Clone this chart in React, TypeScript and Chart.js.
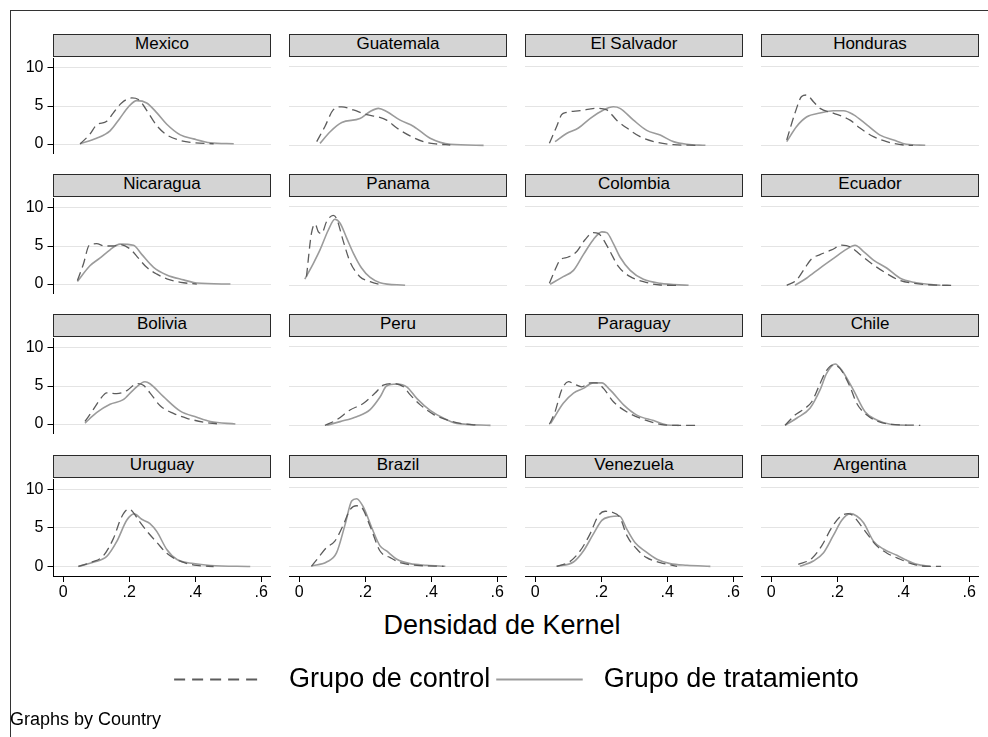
import React, { useEffect, useRef } from 'react';
import { Chart, registerables } from 'chart.js';

Chart.register(...registerables);

// ---------------- DATA ----------------
const countries = [
  'Mexico', 'Guatemala', 'El Salvador', 'Honduras',
  'Nicaragua', 'Panama', 'Colombia', 'Ecuador',
  'Bolivia', 'Peru', 'Paraguay', 'Chile',
  'Uruguay', 'Brazil', 'Venezuela', 'Argentina',
];

const seriesLabels = ['Grupo de control', 'Grupo de tratamiento'];
const xTitle = 'Densidad de Kernel';
const footnote = 'Graphs by Country';

const yTicks = [0, 5, 10];
const yTickLabels = ['0', '5', '10'];
const xTicks = [0, 0.2, 0.4, 0.6];
const xTickLabels = ['0', '.2', '.4', '.6'];

// [x, density] pairs
const mexicoControl = [[0.051,0],[0.081,1.3],[0.101,2.5],[0.132,3.0],[0.152,4.1],[0.177,5.4],[0.208,6.06],[0.228,5.85],[0.243,5.1],[0.258,4.1],[0.284,2.4],[0.314,1.2],[0.355,0.47],[0.395,0.17],[0.456,0.04]];
const mexicoTreatment = [[0.051,0.05],[0.101,0.76],[0.142,1.74],[0.172,3.4],[0.198,4.9],[0.223,5.7],[0.253,5.4],[0.284,4.1],[0.314,2.6],[0.355,1.2],[0.395,0.68],[0.446,0.17],[0.517,0.04]];
const guatemalaControl = [[0.053,0.47],[0.078,2.4],[0.103,4.5],[0.129,4.9],[0.164,4.5],[0.205,3.9],[0.24,3.6],[0.265,3.2],[0.296,2.2],[0.336,1.2],[0.377,0.47],[0.417,0.17],[0.458,0.04]];
const guatemalaTreatment = [[0.063,0.25],[0.093,1.7],[0.129,2.9],[0.184,3.4],[0.215,4.3],[0.24,4.7],[0.265,4.3],[0.306,3.2],[0.347,2.4],[0.397,0.9],[0.458,0.13],[0.559,0]];
const elSalvadorControl = [[0.043,0.25],[0.065,2.4],[0.08,3.9],[0.095,4.2],[0.136,4.4],[0.186,4.7],[0.217,4.5],[0.247,3.2],[0.278,2.2],[0.318,1.1],[0.369,0.38],[0.419,0.08],[0.49,0]];
const elSalvadorTreatment = [[0.06,0.47],[0.095,1.5],[0.131,2.2],[0.166,3.4],[0.207,4.5],[0.237,4.9],[0.257,4.7],[0.298,3.2],[0.338,1.9],[0.379,1.3],[0.419,0.47],[0.46,0.13],[0.516,0]];
const hondurasControl = [[0.047,0.68],[0.072,4.1],[0.092,6.2],[0.107,6.4],[0.128,5.55],[0.148,4.7],[0.188,4.1],[0.239,3.2],[0.269,2.2],[0.31,1.1],[0.35,0.47],[0.401,0.04],[0.43,0]];
const hondurasTreatment = [[0.047,0.47],[0.077,2.4],[0.107,3.6],[0.148,4.1],[0.188,4.4],[0.219,4.4],[0.249,3.9],[0.29,2.6],[0.33,1.3],[0.371,0.68],[0.411,0.13],[0.467,0]];
const nicaraguaControl = [[0.043,0.47],[0.061,2.6],[0.079,5.1],[0.101,5.3],[0.126,5.0],[0.152,5.0],[0.172,5.2],[0.203,4.6],[0.228,3.4],[0.253,2.2],[0.284,1.3],[0.314,0.68],[0.365,0.17],[0.405,0]];
const nicaraguaTreatment = [[0.043,0.34],[0.081,2.4],[0.111,3.4],[0.142,4.5],[0.172,5.25],[0.213,5.1],[0.238,3.9],[0.274,2.2],[0.314,1.2],[0.365,0.55],[0.405,0.13],[0.507,0]];
const panamaControl = [[0.022,1.1],[0.037,6.6],[0.048,7.8],[0.058,6.8],[0.068,6.6],[0.083,8.1],[0.103,8.9],[0.113,8.5],[0.134,5.55],[0.154,3.0],[0.184,1.1],[0.215,0.47],[0.255,0]];
const panamaTreatment = [[0.017,0.8],[0.043,2.8],[0.063,4.5],[0.088,7.0],[0.108,8.4],[0.124,7.9],[0.144,6.0],[0.164,4.1],[0.189,2.2],[0.215,1.0],[0.245,0.34],[0.321,0]];
const colombiaControl = [[0.043,0.25],[0.06,1.95],[0.075,3.2],[0.1,3.6],[0.126,4.3],[0.151,5.8],[0.176,6.7],[0.191,6.6],[0.207,5.8],[0.227,4.3],[0.252,2.4],[0.288,1.1],[0.328,0.47],[0.379,0.04],[0.43,0]];
const colombiaTreatment = [[0.045,0.13],[0.085,1.1],[0.116,1.9],[0.146,3.9],[0.176,5.8],[0.202,6.8],[0.217,6.7],[0.237,5.3],[0.257,3.6],[0.288,1.9],[0.328,0.76],[0.379,0.25],[0.465,0]];
const ecuadorControl = [[0.047,0],[0.077,0.68],[0.102,2.2],[0.123,3.4],[0.148,3.9],[0.183,4.5],[0.214,5.1],[0.239,4.9],[0.27,3.9],[0.31,2.6],[0.35,1.5],[0.391,0.6],[0.432,0.25],[0.492,0.04],[0.553,0]];
const ecuadorTreatment = [[0.072,0],[0.107,0.9],[0.148,2.2],[0.188,3.4],[0.229,4.6],[0.254,5.1],[0.28,4.3],[0.31,3.2],[0.35,2.2],[0.391,0.9],[0.432,0.38],[0.492,0.08],[0.513,0]];
const boliviaControl = [[0.066,0.34],[0.091,1.9],[0.111,3.2],[0.132,4.1],[0.162,4.0],[0.193,4.4],[0.223,5.3],[0.243,5.1],[0.263,4.1],[0.294,2.4],[0.334,1.4],[0.375,0.76],[0.426,0.25],[0.466,0.04]];
const boliviaTreatment = [[0.066,0.13],[0.101,1.5],[0.142,2.6],[0.182,3.2],[0.213,4.5],[0.248,5.55],[0.263,5.3],[0.304,3.6],[0.355,1.7],[0.405,0.9],[0.446,0.34],[0.522,0]];
const peruControl = [[0.078,0],[0.113,0.68],[0.154,1.95],[0.195,2.8],[0.23,4.1],[0.255,5.1],[0.286,5.3],[0.316,4.9],[0.336,3.9],[0.367,2.6],[0.407,1.4],[0.448,0.68],[0.488,0.25],[0.549,0]];
const peruTreatment = [[0.083,0],[0.124,0.47],[0.174,1.1],[0.215,2.0],[0.245,3.6],[0.265,5.0],[0.296,5.25],[0.326,4.9],[0.357,3.4],[0.397,1.9],[0.438,0.9],[0.478,0.25],[0.58,0]];
const paraguayControl = [[0.043,0.13],[0.06,1.7],[0.08,4.5],[0.101,5.55],[0.116,5.3],[0.141,4.9],[0.166,5.4],[0.186,5.4],[0.207,4.7],[0.237,3.0],[0.278,1.7],[0.328,0.76],[0.379,0.13],[0.43,0],[0.49,0]];
const paraguayTreatment = [[0.047,0.25],[0.085,2.8],[0.116,4.1],[0.146,4.7],[0.176,5.4],[0.202,5.4],[0.227,4.5],[0.268,2.6],[0.308,1.3],[0.359,0.6],[0.399,0.04],[0.435,0]];
const chileControl = [[0.042,0],[0.072,1.3],[0.097,2.0],[0.123,3.0],[0.148,5.3],[0.168,7.0],[0.188,7.7],[0.209,7.2],[0.239,4.9],[0.259,2.8],[0.29,1.3],[0.32,0.55],[0.361,0.13],[0.452,0]];
const chileTreatment = [[0.042,0],[0.077,0.9],[0.118,2.2],[0.148,4.5],[0.168,6.6],[0.194,7.8],[0.214,7.0],[0.249,4.5],[0.285,1.7],[0.32,0.68],[0.361,0.13],[0.411,0]];
const uruguayControl = [[0.046,0],[0.086,0.55],[0.122,1.4],[0.152,3.6],[0.177,6.4],[0.198,7.4],[0.208,7.2],[0.228,6.0],[0.253,4.6],[0.284,3.1],[0.314,1.7],[0.355,0.68],[0.405,0.13],[0.456,0]];
const uruguayTreatment = [[0.046,0],[0.091,0.55],[0.132,1.3],[0.162,3.2],[0.193,6.0],[0.215,6.8],[0.238,6.1],[0.263,5.55],[0.284,4.5],[0.314,2.2],[0.345,0.9],[0.395,0.38],[0.446,0.13],[0.567,0]];
const brazilControl = [[0.037,0],[0.058,1.1],[0.083,2.4],[0.108,3.2],[0.134,5.3],[0.154,7.2],[0.174,7.7],[0.189,7.5],[0.215,5.1],[0.245,1.95],[0.276,1.1],[0.306,0.47],[0.357,0.13],[0.438,0]];
const brazilTreatment = [[0.037,0.04],[0.083,0.55],[0.113,1.7],[0.139,5.3],[0.159,8.3],[0.174,8.6],[0.195,7.5],[0.22,4.9],[0.245,2.6],[0.265,1.95],[0.296,0.9],[0.336,0.34],[0.387,0.13],[0.443,0]];
const venezuelaControl = [[0.065,0],[0.105,0.6],[0.136,1.95],[0.166,4.1],[0.191,6.4],[0.212,7.0],[0.232,6.9],[0.257,6.2],[0.278,3.9],[0.308,2.2],[0.338,1.1],[0.379,0.47],[0.43,0]];
const venezuelaTreatment = [[0.065,0],[0.116,0.55],[0.146,1.95],[0.176,4.1],[0.202,5.85],[0.227,6.3],[0.255,6.4],[0.278,4.7],[0.303,3.0],[0.334,1.9],[0.369,0.9],[0.409,0.34],[0.46,0.13],[0.531,0]];
const argentinaControl = [[0.082,0.25],[0.123,1.0],[0.153,2.6],[0.183,4.9],[0.209,6.3],[0.234,6.7],[0.249,6.4],[0.27,5.3],[0.295,3.9],[0.32,2.6],[0.35,1.7],[0.391,0.9],[0.432,0.25],[0.472,0],[0.515,0]];
const argentinaTreatment = [[0.087,0],[0.128,0.68],[0.158,1.7],[0.188,3.9],[0.214,5.85],[0.239,6.7],[0.259,6.4],[0.28,5.55],[0.31,3.2],[0.34,2.2],[0.381,1.4],[0.411,0.76],[0.442,0.25],[0.482,0]];

const controlSeries = [
  mexicoControl, guatemalaControl, elSalvadorControl, hondurasControl,
  nicaraguaControl, panamaControl, colombiaControl, ecuadorControl,
  boliviaControl, peruControl, paraguayControl, chileControl,
  uruguayControl, brazilControl, venezuelaControl, argentinaControl,
];
const treatmentSeries = [
  mexicoTreatment, guatemalaTreatment, elSalvadorTreatment, hondurasTreatment,
  nicaraguaTreatment, panamaTreatment, colombiaTreatment, ecuadorTreatment,
  boliviaTreatment, peruTreatment, paraguayTreatment, chileTreatment,
  uruguayTreatment, brazilTreatment, venezuelaTreatment, argentinaTreatment,
];

// ---------------- LAYOUT / STYLE ----------------
const FONT = '"Liberation Sans", Arial, Helvetica, sans-serif';
const COL_LEFT = [53, 289, 525, 761];
const ROW_TOP = [57, 197, 337, 478];
const PLOT_W = 218;
const PLOT_H = 98;
const PAD = 12;
const X_MIN = -0.031;
const X_MAX = 0.630;
const Y_MIN = -1.23;
const Y_MAX = 11.23;
const CONTROL_COLOR = '#5c5c5c';
const TREAT_COLOR = '#9b9b9b';
const GRID_COLOR = '#e4e4e4';

function Panel({ idx }: { idx: number }) {
  const ref = useRef<HTMLCanvasElement>(null);
  const col = idx % 4;
  const row = Math.floor(idx / 4);
  const isLeft = col === 0;
  const isBottom = row === 3;
  const L = isLeft ? 50 : 0;
  const B = isBottom ? 32 : 0;
  const padBottom = isBottom ? 0 : PAD;
  const w = PLOT_W + L;
  const h = PAD + PLOT_H + B + padBottom;

  useEffect(() => {
    const chart = new Chart(ref.current as HTMLCanvasElement, {
      type: 'line',
      data: {
        datasets: [
          {
            label: seriesLabels[0],
            data: controlSeries[idx].map(([x, y]) => ({ x, y })),
            borderColor: CONTROL_COLOR,
            borderWidth: 1.3,
            borderDash: [9, 5],
            pointRadius: 0,
            cubicInterpolationMode: 'monotone',
            fill: false,
          },
          {
            label: seriesLabels[1],
            data: treatmentSeries[idx].map(([x, y]) => ({ x, y })),
            borderColor: TREAT_COLOR,
            borderWidth: 1.6,
            pointRadius: 0,
            cubicInterpolationMode: 'monotone',
            fill: false,
          },
        ],
      },
      options: {
        animation: false,
        responsive: false,
        devicePixelRatio: 1,
        events: [],
        layout: { padding: { top: PAD, bottom: padBottom, left: 0, right: 0 } },
        plugins: { legend: { display: false }, tooltip: { enabled: false }, title: { display: false } },
        scales: {
          x: {
            type: 'linear',
            min: X_MIN,
            max: X_MAX,
            display: isBottom,
            afterBuildTicks: (s: any) => { s.ticks = xTicks.map((v) => ({ value: v })); },
            afterFit: (s: any) => { s.height = B; },
            grid: { drawOnChartArea: false, drawTicks: true, tickLength: 6, tickColor: '#000', tickWidth: 1 },
            border: { display: true, color: '#000', width: 1 },
            ticks: {
              padding: 1,
              color: '#000',
              autoSkip: false,
              maxRotation: 0,
              font: { family: FONT, size: 16 },
              callback: (v: any) => { const i = xTicks.indexOf(Number(v)); return i >= 0 ? xTickLabels[i] : ''; },
            },
          },
          y: {
            type: 'linear',
            min: Y_MIN,
            max: Y_MAX,
            afterBuildTicks: (s: any) => { s.ticks = yTicks.map((v) => ({ value: v })); },
            afterFit: (s: any) => { s.width = L; },
            grid: { color: GRID_COLOR, lineWidth: 1, drawTicks: isLeft, tickLength: 5.5, tickColor: '#000', tickWidth: 1 },
            border: { display: isLeft, color: '#000', width: 1 },
            ticks: {
              display: isLeft,
              padding: 4,
              color: '#000',
              font: { family: FONT, size: 16 },
              callback: (v: any) => { const i = yTicks.indexOf(Number(v)); return i >= 0 ? yTickLabels[i] : ''; },
            },
          },
        },
      } as any,
    });
    return () => chart.destroy();
  }, []);

  return (
    <>
      <div
        style={{
          position: 'absolute',
          left: COL_LEFT[col],
          top: ROW_TOP[row] - 23,
          width: PLOT_W,
          height: 23,
          boxSizing: 'border-box',
          background: '#d4d4d4',
          border: '1px solid #2a2a2a',
          fontFamily: FONT,
          fontSize: 17,
          lineHeight: '18px',
          textAlign: 'center',
          color: '#000',
          whiteSpace: 'nowrap',
        }}
      >
        {countries[idx]}
      </div>
      <canvas
        ref={ref}
        width={w}
        height={h}
        style={{ position: 'absolute', left: COL_LEFT[col] - L, top: ROW_TOP[row] - PAD, width: w, height: h }}
      />
    </>
  );
}

function LegendChart() {
  const ref = useRef<HTMLCanvasElement>(null);
  const W = 943;
  const H = 60;
  useEffect(() => {
    const base = (Chart as any).defaults.plugins.legend.labels.generateLabels;
    const chart = new Chart(ref.current as HTMLCanvasElement, {
      type: 'line',
      data: {
        datasets: [
          { label: seriesLabels[0], data: [], borderColor: CONTROL_COLOR, backgroundColor: 'rgba(0,0,0,0)', borderWidth: 1.8, borderDash: [11, 7] },
          { label: seriesLabels[1], data: [], borderColor: TREAT_COLOR, backgroundColor: 'rgba(0,0,0,0)', borderWidth: 1.8 },
        ],
      },
      options: {
        animation: false,
        responsive: false,
        devicePixelRatio: 1,
        events: [],
        layout: { padding: 0 },
        scales: { x: { display: false }, y: { display: false } },
        plugins: {
          tooltip: { enabled: false },
          legend: {
            display: true,
            position: 'top',
            align: 'center',
            maxHeight: 200,
            labels: {
              boxWidth: 86.5,
              boxHeight: 0,
              padding: 6,
              color: '#000',
              font: { family: FONT, size: 27 },
              generateLabels: (c: any) => {
                const items = base(c);
                if (items[0]) items[0].text = '  ' + items[0].text;
                if (items[1]) items[1].text = ' ' + items[1].text;
                return items;
              },
            },
          },
        },
      } as any,
    });
    return () => chart.destroy();
  }, []);
  return (
    <canvas
      ref={ref}
      width={W}
      height={H}
      style={{ position: 'absolute', left: 45, top: 660, width: W, height: H }}
    />
  );
}

export default function App() {
  return (
    <div
      style={{
        position: 'fixed',
        left: 0,
        top: 0,
        width: 988,
        height: 737,
        background: '#fff',
        overflow: 'hidden',
      }}
    >
      <div
        style={{
          position: 'absolute',
          left: 10,
          top: 10,
          width: 990,
          height: 740,
          boxSizing: 'border-box',
          borderLeft: '1px solid #333',
          borderTop: '1px solid #333',
        }}
      />
      {countries.map((_, i) => (
        <Panel key={i} idx={i} />
      ))}
      <div
        style={{
          position: 'absolute',
          left: 302,
          top: 610,
          width: 400,
          textAlign: 'center',
          fontFamily: FONT,
          fontSize: 27,
          lineHeight: '30px',
          color: '#000',
          whiteSpace: 'nowrap',
        }}
      >
        {xTitle}
      </div>
      <LegendChart />
      <div
        style={{
          position: 'absolute',
          left: 10,
          top: 708,
          fontFamily: FONT,
          fontSize: 18,
          lineHeight: '22px',
          color: '#000',
          whiteSpace: 'nowrap',
        }}
      >
        {footnote}
      </div>
    </div>
  );
}
